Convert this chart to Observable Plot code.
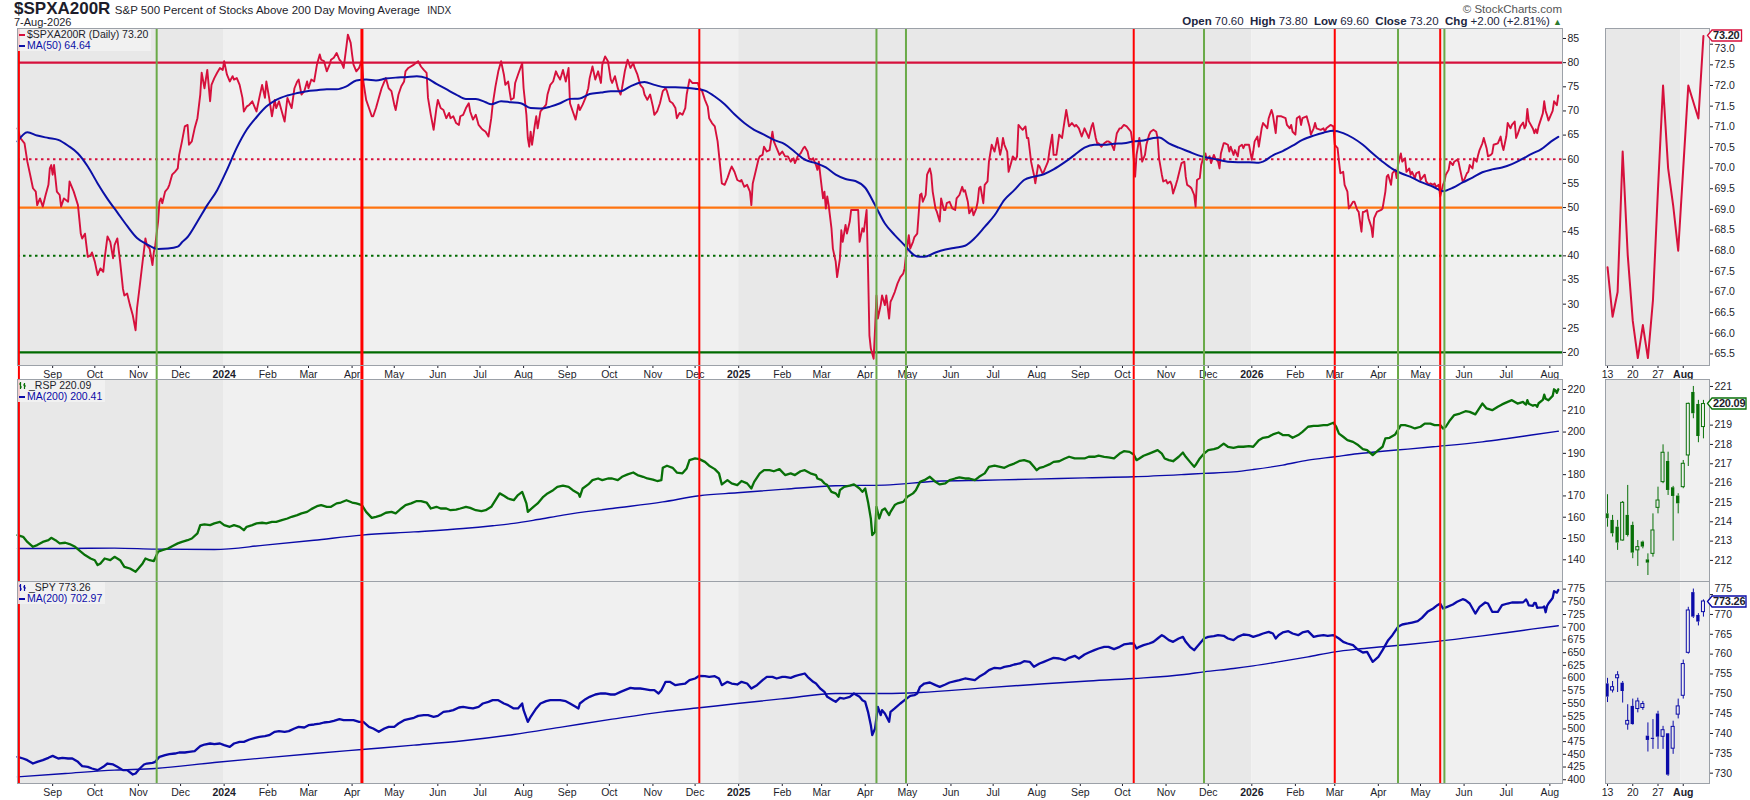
<!DOCTYPE html>
<html><head><meta charset="utf-8">
<script src="https://cdn.jsdelivr.net/npm/d3@7"></script>
<script src="https://cdn.jsdelivr.net/npm/@observablehq/plot@0.6"></script>
<style>
body{margin:0;background:#fff;font-family:"Liberation Sans",Arial,sans-serif;color:#1d1d2b;}
#wrap{position:relative;width:1750px;height:800px;overflow:hidden;background:#fff;}
.abs{position:absolute;white-space:nowrap;}
.leg{position:absolute;background:rgba(242,242,242,0.85);font-size:10.5px;line-height:11px;padding:0 3px 0 1px;}
.sw{display:inline-block;width:6px;height:2px;vertical-align:middle;margin-right:2px;}
</style></head><body><div id="wrap"></div>
<script>
// ---------------- DATA ----------------
// day offsets from 7-Aug-2023
const pctDaily = [[0,66.4],[2,64.4],[5,63.3],[7,59.5],[9,56.8],[11,54.0],[13,53.3],[14,50.5],[16,51.9],[18,50.2],[20,52.6],[22,54.7],[23,58.1],[24,58.8],[25,56.8],[26,58.8],[28,53.3],[30,52.6],[31,50.2],[33,51.9],[36,51.2],[37,55.4],[40,53.3],[43,50.5],[45,44.6],[46,43.6],[48,44.6],[50,39.8],[52,40.1],[53,40.7],[55,38.8],[57,36.0],[59,37.4],[61,36.7],[62,39.5],[64,44.0],[66,42.9],[68,39.5],[69,42.2],[71,43.6],[73,38.8],[75,33.2],[76,31.8],[78,32.2],[80,29.8],[82,27.7],[84,24.6],[85,29.1],[87,33.9],[89,38.8],[91,43.6],[92,42.2],[94,41.5],[96,38.1],[97,40.8],[98,42.2],[100,47.1],[101,51.2],[102,51.9],[103,50.9],[105,53.3],[107,54.0],[108,54.7],[110,56.8],[112,57.4],[114,58.1],[115,60.9],[117,63.7],[119,66.8],[121,67.1],[122,63.0],[124,63.7],[126,66.4],[128,68.5],[130,73.4],[131,77.9],[133,74.7],[135,78.5],[137,72.0],[138,75.4],[140,76.8],[142,77.9],[144,78.9],[146,78.5],[147,80.3],[149,77.5],[151,76.1],[153,77.2],[154,76.5],[156,76.8],[158,75.4],[160,72.7],[161,69.9],[163,70.9],[165,71.3],[167,72.0],[169,70.6],[170,69.9],[172,72.7],[174,75.4],[176,72.7],[177,76.1],[179,72.7],[181,68.9],[183,72.3],[184,70.6],[186,72.0],[188,69.9],[190,67.8],[192,72.7],[193,72.0],[195,70.6],[197,74.7],[199,76.1],[200,76.5],[202,73.4],[204,74.1],[206,76.1],[207,74.7],[209,76.5],[211,76.1],[213,79.6],[215,81.7],[216,80.6],[218,80.3],[220,78.2],[222,79.6],[223,80.6],[225,81.0],[227,82.0],[229,80.6],[230,80.3],[232,78.9],[234,83.4],[235,85.8],[237,84.1],[238,81.7],[239,79.6],[241,78.2],[243,78.9],[245,80.6],[246,76.1],[248,72.3],[250,70.6],[252,68.9],[253,68.9],[255,70.6],[257,72.7],[259,74.7],[261,76.1],[262,76.8],[264,74.7],[266,74.1],[268,71.3],[269,70.2],[271,73.4],[273,75.1],[275,76.1],[276,78.2],[278,78.9],[282,79.6],[285,80.3],[287,79.2],[289,78.5],[291,77.9],[292,72.7],[294,69.2],[296,66.1],[298,70.6],[299,72.3],[301,70.6],[303,70.2],[305,68.5],[307,69.6],[308,68.5],[310,68.9],[312,67.5],[314,67.1],[315,68.9],[317,69.2],[319,70.6],[321,71.6],[322,69.9],[324,68.2],[326,69.2],[328,67.1],[330,66.4],[331,66.1],[333,65.7],[335,64.7],[337,68.5],[338,71.3],[340,75.1],[342,78.2],[344,80.3],[346,77.5],[347,75.4],[349,76.1],[351,72.3],[353,72.7],[354,75.8],[356,77.5],[359,79.9],[360,74.7],[362,69.2],[363,64.4],[364,62.6],[365,65.7],[366,63.0],[368,67.1],[369,68.9],[370,66.4],[372,69.9],[374,70.6],[376,71.3],[377,73.4],[379,75.4],[381,76.1],[383,78.2],[384,77.5],[386,76.5],[388,78.5],[390,76.1],[392,78.9],[393,71.6],[395,69.9],[397,68.2],[399,71.3],[400,70.2],[402,71.3],[404,72.7],[406,74.7],[407,76.8],[409,79.2],[411,76.5],[413,78.2],[415,75.8],[416,79.6],[418,81.3],[420,80.3],[422,76.5],[423,75.8],[425,77.2],[427,74.7],[429,73.4],[430,74.7],[432,78.2],[434,80.6],[436,78.9],[438,79.9],[439,78.9],[441,77.5],[443,75.4],[445,74.7],[446,73.4],[448,72.3],[450,73.4],[452,70.9],[453,69.2],[455,69.9],[457,71.6],[459,74.1],[461,74.7],[462,74.1],[464,72.0],[466,71.6],[468,70.6],[469,68.5],[471,69.6],[473,69.2],[475,70.6],[476,73.4],[478,76.5],[480,75.8],[484,75.8],[485,74.7],[487,74.1],[489,72.3],[491,70.9],[492,68.5],[494,67.5],[496,66.8],[498,63.7],[499,60.9],[501,55.0],[503,54.7],[505,56.1],[507,57.8],[508,58.5],[510,57.4],[512,55.7],[514,55.4],[515,55.7],[517,54.3],[519,54.7],[521,53.3],[522,50.5],[523,55.0],[525,57.4],[527,59.9],[528,60.6],[530,60.9],[531,62.6],[533,61.6],[535,61.9],[537,65.7],[538,63.7],[540,62.3],[542,60.9],[544,61.6],[546,60.6],[548,60.6],[550,59.5],[552,60.2],[553,59.2],[555,60.6],[557,61.2],[559,62.3],[560,62.6],[562,61.6],[563,60.2],[565,59.9],[566,60.2],[568,58.8],[569,57.8],[570,59.5],[571,56.8],[573,51.9],[574,53.3],[575,49.8],[576,52.3],[577,50.5],[579,45.7],[580,41.5],[582,38.8],[583,35.6],[585,39.4],[586,45.3],[587,42.9],[589,46.4],[590,44.6],[592,47.1],[593,49.5],[596,49.5],[598,49.5],[599,42.9],[601,45.7],[602,45.0],[604,49.5],[605,37.4],[606,23.5],[607,20.8],[609,18.7],[610,24.9],[611,31.8],[612,27.0],[614,29.8],[615,31.8],[617,29.8],[618,31.8],[620,27.0],[621,30.5],[622,31.1],[624,32.5],[626,34.3],[628,35.6],[630,36.3],[631,37.4],[632,40.1],[634,44.3],[635,41.5],[637,42.9],[638,43.9],[640,44.6],[642,52.6],[643,52.9],[644,51.2],[646,52.6],[647,56.8],[649,58.1],[650,56.8],[651,53.3],[653,49.8],[654,49.1],[656,47.1],[657,51.9],[659,49.5],[660,49.5],[661,50.9],[663,51.2],[665,49.8],[667,49.5],[668,51.9],[670,52.6],[672,54.3],[673,53.3],[674,53.6],[676,51.2],[677,48.8],[679,49.8],[680,48.4],[682,49.8],[683,51.2],[684,54.0],[685,54.3],[687,50.9],[688,54.7],[690,55.4],[691,59.5],[693,63.0],[695,61.6],[697,64.4],[699,60.9],[700,62.3],[701,64.4],[702,63.0],[704,61.6],[705,57.4],[707,59.5],[708,60.6],[710,59.9],[711,60.6],[712,67.1],[714,66.4],[715,66.1],[717,66.8],[718,64.4],[719,64.4],[721,59.5],[722,58.1],[723,56.8],[724,55.0],[726,58.8],[727,58.5],[729,57.1],[730,57.4],[731,58.1],[733,59.5],[734,61.6],[736,65.1],[737,60.9],[739,60.9],[740,63.0],[741,65.1],[743,64.4],[744,66.4],[746,70.2],[747,68.5],[748,66.8],[750,67.5],[752,66.8],[753,67.1],[755,66.4],[757,64.7],[759,66.4],[761,65.1],[762,64.4],[764,66.8],[765,67.5],[767,64.4],[768,63.3],[769,63.3],[771,62.6],[773,63.3],[775,63.7],[776,63.7],[778,63.3],[780,61.9],[782,65.4],[784,66.4],[785,66.4],[787,67.1],[789,66.8],[791,66.1],[792,65.7],[793,63.7],[795,56.4],[796,60.9],[798,64.4],[799,62.3],[800,59.5],[802,60.9],[803,63.0],[805,65.1],[806,65.7],[808,66.1],[810,65.7],[811,64.4],[812,60.2],[814,56.8],[815,55.4],[817,55.7],[818,55.0],[820,55.4],[821,54.7],[822,52.9],[824,54.7],[825,55.7],[827,58.1],[828,59.2],[830,59.5],[831,56.4],[832,54.7],[834,54.3],[835,54.0],[837,52.6],[838,50.2],[839,55.7],[841,56.1],[842,58.8],[844,60.9],[845,61.2],[846,59.9],[848,60.6],[849,59.2],[851,60.9],[852,60.2],[854,59.5],[855,58.1],[856,61.2],[858,63.3],[859,63.3],[861,63.0],[862,61.6],[863,62.6],[865,60.9],[866,61.9],[868,60.6],[869,62.6],[871,63.0],[872,62.3],[873,63.0],[876,63.0],[878,59.9],[879,61.6],[880,63.7],[882,64.7],[883,62.6],[885,66.4],[886,67.5],[888,66.8],[889,66.4],[890,68.5],[892,70.2],[893,69.2],[895,65.4],[896,68.9],[899,68.9],[902,68.5],[903,67.1],[905,66.4],[906,67.1],[907,65.7],[909,65.1],[910,68.5],[912,68.9],[913,67.1],[914,68.5],[917,68.9],[919,66.8],[920,65.1],[922,66.4],[923,67.5],[924,66.4],[927,66.1],[929,66.4],[930,65.7],[931,66.4],[934,67.1],[936,66.8],[937,63.0],[939,62.3],[940,59.5],[941,57.1],[943,57.4],[944,54.7],[946,53.3],[947,49.8],[948,50.2],[950,51.2],[951,51.2],[953,49.5],[954,49.1],[956,45.0],[957,49.1],[958,49.1],[960,49.5],[961,47.8],[963,46.0],[964,43.9],[965,47.8],[967,49.1],[970,49.5],[971,49.8],[973,53.3],[974,56.4],[975,56.8],[977,54.7],[978,57.1],[980,57.8],[981,56.1],[982,58.8],[984,61.2],[985,59.5],[987,60.2],[988,57.4],[990,58.1],[991,56.8],[992,57.4],[994,56.1],[995,57.1],[997,57.4],[998,55.7],[999,56.1],[1001,56.8],[1002,55.4],[1004,54.7],[1005,55.0],[1007,54.7],[1008,55.0],[1009,54.3],[1011,54.7],[1012,52.3],[1014,54.7],[1015,55.4],[1016,56.8],[1018,57.8],[1019,59.5],[1021,58.8],[1022,59.5],[1024,59.9],[1025,59.5],[1026,58.1],[1028,55.4],[1029,55.7],[1031,57.1],[1032,57.4],[1033,58.8],[1035,58.1],[1036,60.2],[1038,59.5],[1039,60.9],[1040,61.9],[1042,63.3],[1043,64.4],[1045,62.3],[1046,60.6],[1048,60.9],[1049,61.2],[1050,63.0],[1053,63.3],[1055,64.7],[1056,63.0],[1057,61.9],[1059,64.7],[1060,67.5],[1062,66.4],[1063,67.1],[1065,67.8],[1066,64.4],[1067,65.1],[1069,66.8]];

const pctMA50 = [[0,63.7],[7,65.6],[14,64.9],[22,64.4],[29,64.0],[36,62.8],[43,61.2],[50,58.5],[57,55.0],[64,51.8],[71,49.0],[78,46.2],[85,43.7],[92,42.4],[100,41.4],[107,41.5],[114,41.9],[117,42.8],[121,43.9],[128,47.1],[135,50.5],[142,53.6],[149,57.8],[156,62.4],[163,66.1],[170,68.7],[177,70.9],[184,72.3],[192,73.2],[199,73.7],[206,74.1],[213,74.3],[220,74.5],[227,74.5],[234,75.1],[241,76.3],[248,76.5],[255,76.3],[262,76.7],[269,76.9],[276,77.0],[284,77.2],[291,76.8],[298,75.6],[305,74.5],[312,73.4],[319,72.5],[326,72.5],[333,71.8],[337,71.4],[344,72.0],[351,71.8],[358,71.6],[365,70.6],[372,70.5],[379,70.9],[386,71.6],[393,72.5],[400,72.6],[407,73.5],[415,73.8],[422,74.1],[429,74.1],[436,75.1],[443,75.9],[446,76.0],[453,75.4],[461,74.9],[468,74.9],[475,74.8],[482,74.6],[489,74.2],[496,73.0],[503,71.4],[510,69.3],[517,67.5],[524,66.1],[531,65.1],[538,64.0],[546,63.1],[553,61.5],[560,59.9],[568,59.2],[575,58.3],[582,56.8],[589,55.9],[596,55.5],[603,54.1],[610,50.5],[617,46.7],[624,44.3],[631,42.2],[638,40.1],[642,39.8],[645,39.8],[653,40.7],[660,41.3],[667,41.7],[674,42.1],[681,43.7],[688,46.0],[695,48.4],[702,51.6],[709,53.6],[716,55.7],[723,56.4],[730,56.9],[737,57.9],[745,59.4],[752,60.9],[759,62.4],[766,63.0],[773,63.0],[780,63.2],[787,63.3],[794,63.7],[801,63.9],[808,64.4],[812,64.5],[819,63.3],[826,62.4],[833,61.6],[840,60.8],[847,60.3],[854,59.9],[861,59.5],[868,59.4],[876,59.4],[883,59.3],[886,59.5],[893,60.8],[900,61.7],[907,62.8],[914,64.0],[922,64.9],[929,65.5],[936,65.9],[943,65.4],[950,64.4],[957,63.0],[964,61.2],[971,59.5],[978,58.0],[985,57.0],[992,56.2],[999,55.2],[1007,54.3],[1014,53.4],[1021,54.1],[1028,55.2],[1035,56.2],[1042,57.3],[1049,57.9],[1056,58.3],[1063,59.0],[1070,60.0],[1077,61.1],[1084,62.1],[1091,63.7],[1096,64.64]];

const rspDaily = [[0,151.6],[4,150.8],[7,148.4],[11,146.1],[14,146.9],[18,148.4],[22,149.2],[24,150.3],[27,149.2],[30,147.7],[34,148.0],[37,147.4],[41,146.1],[45,143.8],[48,142.2],[52,140.6],[55,139.8],[57,137.5],[59,138.3],[62,140.6],[66,139.8],[69,141.4],[73,139.8],[76,136.7],[80,135.9],[84,134.4],[86,135.9],[89,138.3],[91,140.6],[94,139.8],[97,139.4],[100,143.8],[103,144.5],[107,145.3],[110,146.4],[114,147.7],[117,148.4],[121,149.2],[124,150.0],[128,152.4],[130,156.3],[133,156.6],[137,156.3],[140,157.1],[144,157.8],[147,156.3],[151,155.5],[154,156.3],[158,155.5],[161,153.9],[163,155.5],[167,156.3],[170,157.1],[174,157.4],[177,157.1],[181,157.8],[184,157.8],[188,158.6],[192,159.4],[195,160.2],[199,161.0],[202,161.8],[206,162.5],[209,163.8],[213,165.2],[216,165.7],[220,164.9],[223,164.9],[227,166.5],[230,166.9],[234,168.0],[238,166.9],[241,166.5],[245,165.7],[248,162.5],[252,159.7],[255,160.2],[259,161.0],[262,162.1],[266,162.5],[269,161.8],[273,164.1],[276,165.7],[280,166.5],[284,167.6],[287,167.6],[291,166.9],[294,164.1],[298,164.9],[301,164.1],[305,164.1],[308,163.3],[312,163.6],[315,164.1],[319,164.9],[322,164.4],[326,163.3],[330,162.9],[333,163.3],[337,164.9],[340,168.0],[343,171.2],[346,170.1],[349,168.8],[353,168.0],[356,170.4],[359,171.9],[362,166.5],[363,162.5],[367,164.9],[370,166.5],[374,169.6],[377,171.2],[381,172.7],[384,174.3],[388,174.8],[392,174.3],[395,172.7],[399,171.2],[400,169.6],[402,173.5],[406,175.4],[409,177.4],[413,178.2],[416,177.4],[420,178.2],[423,178.2],[427,177.4],[430,179.0],[434,180.1],[438,181.0],[441,179.8],[445,179.0],[448,178.2],[452,177.7],[455,177.0],[458,177.4],[459,183.2],[462,184.2],[466,183.2],[469,181.0],[473,180.6],[476,182.9],[478,186.8],[482,187.6],[485,187.3],[489,186.0],[492,184.2],[496,182.6],[499,180.6],[501,175.4],[505,177.4],[508,175.9],[512,175.1],[515,177.0],[519,175.9],[522,173.5],[524,176.6],[528,180.6],[531,182.1],[535,182.1],[538,181.6],[542,182.6],[546,179.8],[550,180.6],[553,179.8],[557,181.6],[560,182.1],[564,180.6],[568,179.8],[569,178.2],[572,177.4],[574,175.9],[576,175.1],[579,171.9],[582,171.2],[584,169.6],[585,172.7],[588,174.3],[592,174.8],[595,175.4],[599,173.5],[601,171.9],[603,173.5],[605,167.2],[607,159.4],[608,151.6],[610,153.1],[611,164.9],[613,159.4],[615,163.3],[617,164.1],[620,161.0],[621,162.5],[624,165.7],[626,166.5],[630,167.2],[633,169.6],[637,171.2],[639,172.7],[642,176.6],[645,177.4],[649,179.0],[653,176.6],[656,175.4],[660,175.9],[663,177.4],[667,178.2],[670,178.7],[674,178.2],[677,178.2],[681,177.4],[684,179.0],[688,180.6],[691,183.7],[695,184.2],[699,183.7],[702,183.2],[706,184.5],[709,185.2],[713,186.5],[716,186.8],[720,186.0],[723,183.7],[725,182.1],[727,183.2],[730,183.7],[734,184.8],[737,186.0],[741,186.3],[745,187.6],[748,188.4],[752,187.6],[755,187.6],[759,187.6],[762,188.4],[766,188.4],[769,188.9],[773,188.4],[776,188.1],[780,187.6],[784,189.9],[787,191.0],[791,190.7],[794,189.5],[796,186.8],[798,187.6],[801,188.9],[805,189.9],[808,190.7],[811,191.5],[814,189.9],[816,187.6],[819,186.8],[822,186.3],[826,188.4],[829,190.4],[831,188.4],[834,186.0],[837,183.7],[838,184.5],[841,187.6],[844,189.9],[847,191.5],[851,192.0],[854,192.6],[858,194.6],[861,193.1],[865,192.6],[868,193.1],[872,193.1],[876,193.4],[879,193.1],[881,194.6],[883,196.2],[886,197.3],[890,197.8],[893,198.9],[897,199.8],[900,198.6],[904,198.6],[907,197.3],[911,198.6],[914,200.1],[918,202.5],[922,202.9],[925,202.9],[929,203.3],[932,203.3],[936,204.4],[938,202.5],[940,199.3],[943,197.8],[946,196.2],[950,195.4],[953,194.2],[957,192.0],[960,191.5],[964,189.2],[968,191.5],[971,193.1],[973,197.0],[976,197.3],[980,198.9],[984,203.3],[987,203.3],[991,202.5],[994,201.7],[998,202.5],[1001,204.0],[1005,204.0],[1008,203.3],[1012,203.3],[1014,201.7],[1016,202.5],[1019,205.6],[1022,208.0],[1026,208.7],[1030,209.8],[1033,209.5],[1037,208.3],[1040,211.4],[1042,213.4],[1045,211.1],[1049,210.3],[1053,211.9],[1056,213.0],[1060,214.2],[1063,215.0],[1067,213.4]];

const rspMA200 = [[0,145.3],[34,145.3],[69,145.5],[98,145.0],[140,144.8],[176,146.9],[211,149.2],[245,151.6],[282,153.1],[317,154.7],[338,156.0],[353,157.1],[370,158.9],[388,161.0],[423,164.1],[459,167.2],[485,170.1],[512,171.5],[546,173.2],[582,174.8],[617,175.1],[653,176.9],[688,177.4],[723,177.9],[759,178.5],[794,179.0],[830,180.1],[844,180.6],[865,181.3],[879,182.4],[900,184.5],[918,186.8],[937,188.4],[953,189.8],[971,191.0],[989,192.0],[1007,193.1],[1042,195.4],[1060,197.0],[1077,198.6],[1096,200.41]];

const spyDaily = [[0,445.1],[4,441.8],[7,438.5],[11,431.9],[14,435.2],[18,438.5],[22,443.1],[25,447.0],[29,441.8],[32,443.1],[36,441.8],[39,441.8],[43,435.2],[46,426.7],[50,425.4],[53,422.1],[57,418.9],[61,425.4],[64,431.9],[68,430.0],[71,425.4],[75,418.9],[78,418.9],[82,410.3],[84,412.3],[87,422.1],[90,430.0],[92,431.9],[96,433.3],[98,435.2],[101,445.1],[105,448.4],[108,450.3],[112,451.6],[115,453.6],[119,453.6],[122,454.9],[126,456.2],[130,466.0],[133,469.3],[137,471.3],[140,470.0],[144,471.3],[147,468.0],[151,464.8],[154,471.3],[158,474.6],[161,474.6],[165,479.2],[169,482.4],[172,484.4],[176,485.7],[179,487.7],[183,494.3],[186,495.6],[190,494.3],[193,495.6],[197,500.8],[200,504.1],[204,502.8],[207,507.4],[211,508.7],[215,510.6],[218,512.6],[222,513.9],[225,515.9],[229,519.2],[232,517.2],[236,517.2],[239,517.2],[243,513.9],[246,513.9],[250,504.1],[253,500.8],[257,494.3],[261,500.8],[264,504.1],[268,504.1],[271,510.6],[275,517.2],[278,519.2],[282,521.8],[285,525.7],[289,527.0],[292,527.0],[296,523.8],[299,525.7],[303,533.6],[307,534.9],[310,536.9],[314,542.1],[317,543.4],[321,541.5],[324,540.2],[328,543.4],[331,550.0],[335,553.3],[338,556.5],[342,556.5],[346,550.0],[349,546.7],[353,540.2],[356,540.2],[359,550.0],[360,536.9],[363,513.9],[365,523.8],[369,540.2],[372,550.0],[376,554.6],[379,556.5],[383,556.5],[386,556.5],[390,554.6],[393,550.0],[397,543.4],[399,540.2],[400,550.0],[404,558.5],[407,563.1],[411,567.7],[415,569.7],[418,569.7],[422,567.7],[425,567.7],[429,572.9],[432,576.2],[436,580.8],[439,579.5],[443,579.5],[446,578.2],[450,576.2],[453,576.2],[456,569.7],[458,576.2],[461,592.6],[464,592.6],[468,586.1],[471,587.4],[475,589.3],[478,595.9],[482,599.2],[485,604.4],[489,603.8],[492,602.5],[496,603.8],[499,599.2],[501,586.1],[505,592.6],[508,589.3],[512,587.4],[515,592.6],[519,589.3],[522,579.5],[526,586.1],[530,595.9],[533,602.5],[537,602.5],[540,599.2],[544,602.5],[546,602.5],[550,600.5],[553,603.8],[557,607.0],[560,609.0],[562,602.5],[566,592.6],[568,589.3],[571,579.5],[574,572.9],[576,563.1],[580,556.5],[582,553.3],[585,561.1],[588,559.8],[592,563.1],[595,569.7],[599,563.1],[601,556.5],[603,553.3],[605,533.6],[607,507.4],[608,487.7],[610,500.8],[612,543.4],[614,527.0],[615,536.9],[617,530.3],[620,513.9],[621,533.6],[624,540.2],[628,550.0],[631,556.5],[635,565.1],[638,566.4],[640,569.7],[642,582.8],[645,589.3],[649,591.3],[653,586.1],[656,582.8],[660,587.4],[663,591.3],[667,593.9],[670,595.9],[674,599.2],[677,597.9],[681,595.9],[684,602.5],[688,609.0],[691,615.6],[695,620.2],[699,618.9],[702,622.1],[706,624.1],[709,626.7],[713,628.7],[716,633.3],[720,632.0],[723,622.1],[727,628.7],[730,632.0],[734,636.5],[737,639.8],[741,638.5],[745,635.2],[748,639.8],[752,643.8],[755,638.5],[759,646.4],[762,650.3],[766,654.9],[769,658.2],[773,661.5],[776,661.5],[780,656.9],[784,661.5],[787,666.1],[791,668.0],[794,668.0],[796,658.2],[798,661.5],[801,664.7],[805,668.0],[808,671.3],[811,677.9],[814,684.4],[816,681.1],[819,674.6],[822,671.3],[826,677.9],[829,681.1],[831,671.3],[834,661.5],[837,654.9],[838,658.2],[841,668.0],[844,677.9],[847,681.1],[851,682.4],[854,684.4],[858,683.1],[861,677.9],[865,674.6],[868,681.1],[872,685.7],[876,684.4],[879,681.1],[883,684.4],[886,687.7],[890,691.0],[893,687.7],[895,677.9],[897,684.4],[900,689.7],[904,692.3],[907,687.7],[911,684.4],[914,689.7],[918,692.3],[922,681.1],[925,683.1],[929,684.4],[932,683.1],[936,684.4],[938,681.1],[940,677.9],[943,671.3],[946,668.0],[950,664.7],[953,656.9],[957,650.3],[960,651.6],[964,632.0],[968,641.8],[971,654.9],[973,664.7],[975,674.6],[978,684.4],[982,700.8],[985,705.4],[989,707.4],[992,709.3],[996,711.9],[999,718.5],[1003,730.3],[1007,736.9],[1010,743.4],[1012,746.7],[1014,736.9],[1017,740.2],[1021,744.7],[1024,750.0],[1028,755.2],[1030,753.3],[1033,746.7],[1037,727.0],[1040,740.2],[1044,748.7],[1046,746.7],[1049,730.3],[1053,730.3],[1056,743.4],[1060,746.7],[1063,748.7],[1067,748.7]];

const spyMA200 = [[0,405.7],[34,412.3],[69,418.9],[98,422.1],[140,433.9],[176,443.1],[211,451.6],[245,459.5],[282,468.0],[317,476.6],[353,489.0],[388,504.1],[423,519.2],[459,533.6],[485,541.5],[512,550.0],[546,559.8],[582,569.7],[617,569.7],[642,571.6],[688,580.8],[723,587.4],[759,593.9],[794,599.2],[830,607.0],[844,612.3],[865,618.9],[879,624.1],[900,633.3],[918,641.8],[937,651.6],[953,656.9],[971,661.5],[989,666.1],[1007,671.3],[1042,683.1],[1060,689.7],[1077,696.2],[1096,702.97]];

// last 20 sessions (13-Jul-2026 .. 7-Aug-2026)
const recentDays = [1071,1072,1073,1074,1075,1078,1079,1080,1081,1082,1085,1086,1087,1088,1089,1092,1093,1094,1095,1096];
const pctRecent = [67.6,66.4,67.0,70.4,67.9,66.3,65.4,66.2,65.4,66.8,69.5,72.0,70.0,69.1,68.0,70.0,72.0,71.6,71.2,73.2];
const rspOpen  = [214.41,214.07,213.72,213.03,214.33,213.81,212.52,212.95,212.03,212.34,214.72,216.05,217.12,215.76,215.33,215.79,217.43,220.69,220.07,218.90];
const rspHigh  = [215.40,214.33,214.07,215.05,215.88,213.98,213.03,213.00,212.34,214.41,215.79,217.98,217.60,215.83,215.45,217.17,220.14,221.00,220.28,220.28];
const rspLow   = [213.72,213.21,212.52,213.00,213.21,212.09,211.69,212.60,211.22,212.17,214.41,215.97,215.36,213.00,214.41,215.71,216.86,219.33,218.09,218.29];
const rspClose = [214.16,213.38,212.90,214.98,213.29,212.38,212.69,212.69,211.86,213.55,215.10,217.57,215.62,215.31,214.93,217.00,220.10,219.59,218.41,220.09];
const spyOpen  = [752.50,750.83,753.92,752.67,742.25,746.83,746.17,746.42,739.33,738.80,744.92,739.17,739.92,736.17,744.75,749.50,760.33,775.50,769.75,770.58];
const spyHigh  = [753.90,753.10,755.58,753.08,747.25,748.67,748.90,748.08,742.67,743.50,745.60,741.80,740.00,743.10,748.67,758.50,771.80,776.40,770.20,773.67];
const spyLow   = [747.80,750.20,750.33,747.67,740.83,742.10,745.20,745.83,735.33,736.00,736.00,736.00,729.20,734.75,743.67,748.67,760.00,769.00,767.10,769.33];
const spyClose = [749.17,751.67,754.67,750.58,743.17,742.25,748.08,747.42,738.25,738.50,739.08,740.83,729.50,741.67,746.83,757.50,771.00,769.33,768.08,773.26];

// signal lines (day offsets)
const redSignalDays = [1, 245, 485, 794, 937, 1012];
const greenSignalDays = [99, 611, 632, 844, 982, 1015];
// horizontal levels on the breadth panel
const solidLevels = [80, 50, 20];
const dottedLevels = [60, 40];

// axes
const yearStarts = ["2023-08-07", "2024-01-01", "2025-01-01", "2026-01-01", "2026-08-10"];
const monthNames = ["Jan","Feb","Mar","Apr","May","Jun","Jul","Aug","Sep","Oct","Nov","Dec"];
const pctTicks = [20,25,30,35,40,45,50,55,60,65,70,75,80,85];
const rspTicks = [140,150,160,170,180,190,200,210,220];
const spyTicks = [400,425,450,475,500,525,550,575,600,625,650,675,700,725,750,775];
const pctSmallTicks = [65.5,66,66.5,67,67.5,68,68.5,69,69.5,70,70.5,71,71.5,72,72.5,73];
const rspSmallTicks = [212,213,214,215,216,217,218,219,220,221];
const spySmallTicks = [730,735,740,745,750,755,760,765,770,775];
const smallTickIdx = [0, 5, 10, 15];
const smallTickLbl = ["13", "20", "27", "Aug"];

// ---------------- BUILD ----------------
const wrap = document.getElementById("wrap");
const FONT = "'Liberation Sans', Arial, Helvetica, sans-serif";
const DARK = "#e8e8e8", LIGHT = "#f0f0f0", FRAME = "#9ca1a8";
const CRIMSON = "#d6103c", NAVY = "#0b10a6", GREEN = "#087008", BLUE = "#0a0aa8";
const styleBase = {fontFamily: FONT, fontSize: "10.5px", color: "#1d1d2b", background: "transparent", overflow: "visible"};

const day0 = Date.UTC(2023, 7, 7);
const dayDate = d => new Date(day0 + d * 864e5);
const toRows = arr => arr.map(([d, v]) => ({date: dayDate(d), v}));
const recentRows = vals => recentDays.map((d, i) => ({date: dayDate(d), v: vals[i]}));

const pctRows = toRows(pctDaily).concat(recentRows(pctRecent));
const rspRows = toRows(rspDaily).concat(recentRows(rspClose));
const spyRows = toRows(spyDaily).concat(recentRows(spyClose));

const xDomain = [new Date(yearStarts[0]), new Date(yearStarts[yearStarts.length - 1])];
const yearBands = yearStarts.slice(0, -1).map((s, i) => ({x1: new Date(s), x2: new Date(yearStarts[i + 1]), fill: i % 2 ? LIGHT : DARK}));
const monthTicks = d3.utcMonth.range(new Date("2023-09-01"), new Date("2026-08-02"));
const fmtMonth = d => d.getUTCMonth() === 0 ? String(d.getUTCFullYear()) : monthNames[d.getUTCMonth()];

function signalMarks(extendBottom) {
  const red = redSignalDays.map(dayDate), green = greenSignalDays.map(dayDate);
  return [
    Plot.ruleX(green, {stroke: "#6aaa48", strokeWidth: 2, insetBottom: extendBottom}),
    Plot.ruleX(red.filter((d, i) => i !== 1), {stroke: "#ff0000", strokeWidth: 2, insetBottom: extendBottom}),
    Plot.ruleX(red.filter((d, i) => i === 1), {stroke: "#ff0000", strokeWidth: 3, insetBottom: extendBottom})
  ];
}

function mainPanel({top, height, mt, mb, yDomain, yTicks, marks, xAxis, extend}) {
  const svg = Plot.plot({
    width: 1598, height, marginLeft: 17, marginRight: 36, marginTop: mt, marginBottom: mb,
    style: styleBase,
    x: {type: "utc", domain: xDomain, axis: xAxis ? "bottom" : null, ticks: monthTicks, tickFormat: fmtMonth, tickSize: 3, tickPadding: 2, label: null},
    y: {domain: yDomain, axis: "right", ticks: yTicks, tickSize: 3, tickPadding: 2, label: null},
    marks: [
      Plot.rect(yearBands, {x1: "x1", x2: "x2", fill: "fill"}),
      ...marks,
      ...signalMarks(extend),
      Plot.frame({stroke: FRAME})
    ]
  });
  svg.style.position = "absolute"; svg.style.left = "0px"; svg.style.top = top + "px";
  wrap.appendChild(svg);
  d3.select(svg).selectAll("text").filter(function() { return /^\d{4}$/.test(this.textContent); }).attr("font-weight", "bold");
  return svg;
}

function smallPanel({top, height, mt, mb, yDomain, yTicks, fmt, marks, xAxis}) {
  const augIdx = smallTickIdx[3];
  const bands = [{x1: -0.4, x2: augIdx - 0.5, fill: DARK}, {x1: augIdx - 0.5, x2: 20.2, fill: LIGHT}];
  const svg = Plot.plot({
    width: 152, height, marginLeft: 7, marginRight: 41, marginTop: mt, marginBottom: mb,
    style: styleBase,
    x: {type: "linear", domain: [-0.4, 20.2], axis: xAxis ? "bottom" : null, ticks: smallTickIdx, tickFormat: i => smallTickLbl[smallTickIdx.indexOf(i)], tickSize: 3, tickPadding: 2, label: null},
    y: {domain: yDomain, axis: "right", ticks: yTicks, tickFormat: fmt, tickSize: 3, tickPadding: 2, label: null},
    marks: [Plot.rect(bands, {x1: "x1", x2: "x2", fill: "fill"}), ...marks, Plot.frame({stroke: FRAME})]
  });
  svg.style.position = "absolute"; svg.style.left = "1598px"; svg.style.top = top + "px";
  wrap.appendChild(svg);
  d3.select(svg).selectAll("text").filter(function() { return this.textContent === "Aug"; }).attr("font-weight", "bold");
  return svg;
}

function candleMarks(o, h, l, c, col) {
  const rows = o.map((v, i) => ({i, open: v, high: h[i], low: l[i], close: c[i]}));
  return [
    Plot.ruleX(rows, {x: "i", y1: "low", y2: d => Math.min(d.open, d.close), stroke: col, strokeWidth: 1}),
    Plot.ruleX(rows, {x: "i", y1: d => Math.max(d.open, d.close), y2: "high", stroke: col, strokeWidth: 1}),
    Plot.rect(rows.filter(d => d.close < d.open), {x1: d => d.i - 0.33, x2: d => d.i + 0.33, y1: "open", y2: "close", fill: col}),
    Plot.rect(rows.filter(d => d.close >= d.open), {x1: d => d.i - 0.3, x2: d => d.i + 0.3, y1: "open", y2: "close", fill: "none", stroke: col, strokeWidth: 1})
  ];
}

// --- main panels
const pA = mainPanel({
  top: 0, height: 380, mt: 28, mb: 15, yDomain: [17.3, 87.07], yTicks: pctTicks, xAxis: true, extend: -14,
  marks: [
    Plot.ruleY(solidLevels, {stroke: d => d === 80 ? CRIMSON : d === 50 ? "#ff7410" : "#006a00", strokeWidth: 2.2}),
    Plot.ruleY(dottedLevels, {stroke: d => d === 60 ? CRIMSON : "#006a00", strokeWidth: 2, strokeDasharray: "2.5,3.5"}),
    Plot.line(pctRows, {x: "date", y: "v", stroke: CRIMSON, strokeWidth: 1.9}),
    Plot.line(toRows(pctMA50), {x: "date", y: "v", stroke: NAVY, strokeWidth: 2, curve: "monotone-x"})
  ]
});
const pB = mainPanel({
  top: 379, height: 202, mt: 0, mb: 0, yDomain: [129.8, 224.7], yTicks: rspTicks, xAxis: false, extend: 0,
  marks: [
    Plot.line(toRows(rspMA200), {x: "date", y: "v", stroke: BLUE, strokeWidth: 1.4, curve: "monotone-x"}),
    Plot.line(rspRows, {x: "date", y: "v", stroke: GREEN, strokeWidth: 2.3})
  ]
});
const pC = mainPanel({
  top: 581, height: 217, mt: 0, mb: 15, yDomain: [392.6, 790], yTicks: spyTicks, xAxis: true, extend: 0,
  marks: [
    Plot.line(toRows(spyMA200), {x: "date", y: "v", stroke: BLUE, strokeWidth: 1.4, curve: "monotone-x"}),
    Plot.line(spyRows, {x: "date", y: "v", stroke: BLUE, strokeWidth: 2.3})
  ]
});

// --- small panels
const pD = smallPanel({
  top: 0, height: 380, mt: 28, mb: 15, yDomain: [65.22, 73.38], yTicks: pctSmallTicks, fmt: d3.format(".1f"), xAxis: true,
  marks: [Plot.line(pctRecent.map((v, i) => ({i, v})), {x: "i", y: "v", stroke: CRIMSON, strokeWidth: 2})]
});
const pE = smallPanel({
  top: 379, height: 202, mt: 0, mb: 0, yDomain: [210.91, 221.36], yTicks: rspSmallTicks, fmt: d3.format("d"), xAxis: false,
  marks: candleMarks(rspOpen, rspHigh, rspLow, rspClose, GREEN)
});
const pF = smallPanel({
  top: 581, height: 217, mt: 0, mb: 15, yDomain: [727.4, 778.3], yTicks: spySmallTicks, fmt: d3.format("d"), xAxis: true,
  marks: candleMarks(spyOpen, spyHigh, spyLow, spyClose, BLUE)
});

// --- value tags on the right axis; axis labels under a tag are nudged away or hidden, as in the original
function tag(plot, topOffset, value, text, color) {
  const yv = plot.scale("y").apply(value);
  const y = yv + topOffset;
  const h = 11;
  const s = d3.create("svg").attr("height", h + 2)
    .style("position", "absolute").style("left", "1707px").style("top", (y - h / 2 - 1) + "px").style("overflow", "visible");
  const path = s.append("path").attr("fill", "#fff").attr("stroke", color).attr("stroke-width", 1.3);
  const t = s.append("text").attr("x", 6).attr("y", h / 2 + 1).attr("dy", "0.36em")
    .attr("font-family", FONT).attr("font-weight", "bold").attr("font-size", 11).attr("letter-spacing", "-0.2").attr("fill", "#1d1d2b").text(text);
  wrap.appendChild(s.node());
  const w = Math.min(t.node().getComputedTextLength() + 3, 34);
  s.attr("width", w + 7);
  path.attr("d", `M0.5,${h / 2 + 1} L5,1 H${w + 5} V${h + 1} H5 Z`);
  // resolve collisions with the panel's right-axis labels (page coordinates)
  const tr = t.node().getBoundingClientRect();
  const tTop = Math.min(tr.top, y - h / 2 - 1) - 0.5, tBot = Math.max(tr.bottom, y + h / 2 + 1) + 0.5;
  const wr = wrap.getBoundingClientRect();
  const frameRight = plot.getBoundingClientRect().left + 111;
  d3.select(plot).selectAll("text").each(function() {
    const r = this.getBoundingClientRect();
    const top = r.top - wr.top, bot = r.bottom - wr.top;
    if (r.left < frameRight || top > tBot || bot < tTop) return;
    const shift = (top + bot) / 2 < y ? -(bot - tTop) : (tBot - top);
    if (Math.abs(shift) > 8) { this.remove(); return; }
    const g = document.createElementNS("http://www.w3.org/2000/svg", "g");
    g.setAttribute("transform", `translate(0,${shift})`);
    this.parentNode.insertBefore(g, this);
    g.appendChild(this);
  });
}
tag(pD, 0, pctRecent[pctRecent.length - 1], pctRecent[pctRecent.length - 1].toFixed(2), CRIMSON);
tag(pE, 379, rspClose[rspClose.length - 1], rspClose[rspClose.length - 1].toFixed(2), GREEN);
tag(pF, 581, spyClose[spyClose.length - 1], spyClose[spyClose.length - 1].toFixed(2), BLUE);

// --- header & legends (HTML text)
function addHTML(html, css) { const d = document.createElement("div"); d.className = "abs"; d.innerHTML = html; Object.assign(d.style, css); wrap.appendChild(d); return d; }
addHTML(`<span style="font-family:'Liberation Sans Narrow','Liberation Sans',Arial;font-weight:bold;font-size:17px;color:#1d1d2b;">$SPXA200R</span> <span style="font-size:11.5px;color:#1d1d2b;">S&amp;P 500 Percent of Stocks Above 200 Day Moving Average</span> <span style="font-size:10px;color:#1d1d2b;">&nbsp;INDX</span>`,
  {left: "14px", top: "0px", lineHeight: "18px"});
addHTML(`7-Aug-2026`, {left: "14px", top: "16px", fontSize: "11px", lineHeight: "12px", color: "#1d1d2b"});
addHTML(`© StockCharts.com`, {right: "188px", top: "3px", fontSize: "11.5px", color: "#555", lineHeight: "13px"});
const last = pctRecent[pctRecent.length - 1], prev = pctRecent[pctRecent.length - 2];
addHTML(`<b>Open</b> 70.60&nbsp;&nbsp;<b>High</b> 73.80&nbsp;&nbsp;<b>Low</b> 69.60&nbsp;&nbsp;<b>Close</b> ${last.toFixed(2)}&nbsp;&nbsp;<b>Chg</b> +${(last - prev).toFixed(2)} (+${((last - prev) / prev * 100).toFixed(2)}%) <span style="color:#2d7a2d;font-size:9px;">▲</span>`,
  {right: "188px", top: "15px", fontSize: "11.5px", color: "#1c2540", lineHeight: "13px"});

function legend(top, lines) {
  const d = document.createElement("div"); d.className = "leg"; d.style.left = "18px"; d.style.top = top + "px";
  d.innerHTML = lines.map(([sw, txt, col]) => `<div style="color:${col}">${sw}${txt}</div>`).join("");
  wrap.appendChild(d);
}
const dash = c => `<span class="sw" style="background:${c}"></span>`;
const bars = c => `<svg width="9" height="9" style="vertical-align:-1px;margin-right:1px"><path d="M1.5,1V8M0,3H1.5M1.5,6H3M5.5,2V8M4,4H5.5M5.5,5H7" stroke="${c}" stroke-width="1.2" fill="none"/></svg>`;
legend(29, [[dash(CRIMSON), `$SPXA200R (Daily) ${last.toFixed(2)}`, "#1d1d2b"], [dash(NAVY), `MA(50) ${pctMA50[pctMA50.length - 1][1].toFixed(2)}`, NAVY]]);
legend(380, [[bars(GREEN), `_RSP ${rspClose[rspClose.length - 1].toFixed(2)}`, "#1d1d2b"], [dash(BLUE), `MA(200) ${rspMA200[rspMA200.length - 1][1].toFixed(2)}`, BLUE]]);
legend(582, [[bars(BLUE), `_SPY ${spyClose[spyClose.length - 1].toFixed(2)}`, "#1d1d2b"], [dash(BLUE), `MA(200) ${spyMA200[spyMA200.length - 1][1].toFixed(2)}`, BLUE]]);
</script></body></html>
